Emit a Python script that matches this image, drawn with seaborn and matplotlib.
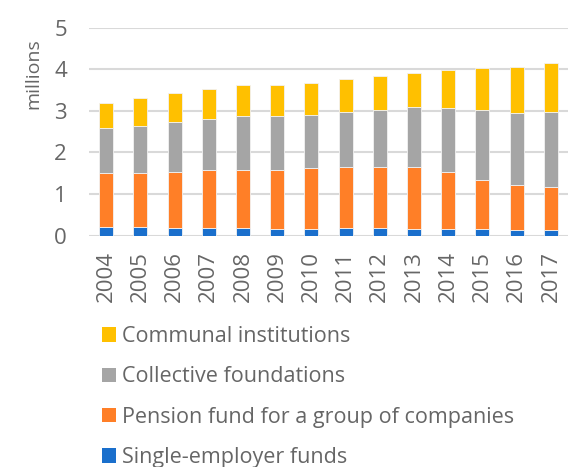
import matplotlib
matplotlib.use("Agg")
import matplotlib.pyplot as plt
from matplotlib.patches import Patch
import seaborn as sns
import pandas as pd

years = [2004, 2005, 2006, 2007, 2008, 2009, 2010, 2011, 2012, 2013, 2014, 2015, 2016, 2017]
single_employer = [0.22, 0.22, 0.19, 0.19, 0.19, 0.17, 0.17, 0.19, 0.19, 0.17, 0.17, 0.17, 0.14, 0.14]
group_companies = [1.28, 1.28, 1.35, 1.39, 1.40, 1.42, 1.46, 1.46, 1.46, 1.48, 1.35, 1.16, 1.07, 1.04]
collective = [1.08, 1.14, 1.20, 1.23, 1.29, 1.29, 1.27, 1.33, 1.38, 1.45, 1.56, 1.70, 1.74, 1.80]
communal = [0.62, 0.66, 0.68, 0.71, 0.74, 0.74, 0.77, 0.79, 0.81, 0.82, 0.91, 1.01, 1.11, 1.18]

series_names = ["Communal institutions", "Collective foundations",
                "Pension fund for a group of companies", "Single-employer funds"]
series_values = [communal, collective, group_companies, single_employer]
colors = ["#FFC000", "#A5A5A5", "#FF7F27", "#1A6FCC"]
y_ticks = [0, 1, 2, 3, 4, 5]

rows = []
for name, vals in zip(series_names, series_values):
    for yr, v in zip(years, vals):
        rows.append({"year": yr, "value": v, "series": name})
df = pd.DataFrame(rows)

sns.set_style("white")
plt.rcParams["font.family"] = ["Open Sans", "DejaVu Sans"]
text_color = "#666666"

fig = plt.figure(figsize=(5.78, 4.67), dpi=100)
ax = fig.add_axes([89 / 578, 1 - 235.7 / 467, (568 - 89) / 578, (235.7 - 27.7) / 467])

palette = dict(zip(series_names, colors))
sns.histplot(data=df, x="year", weights="value", hue="series", hue_order=series_names,
             multiple="stack", discrete=True, shrink=0.41, palette=palette,
             alpha=1, edgecolor="#F2F2F2", linewidth=0.6, legend=False, ax=ax)

ax.set_xlim(years[0] - 0.5, years[-1] + 0.5)
ax.set_ylim(0, 5)
ax.set_yticks(y_ticks)
ax.set_xticks(years)
ax.set_xticklabels([str(y) for y in years], rotation=90)
ax.set_xlabel("")
ax.set_ylabel("")
ax.yaxis.grid(True, color="#D9D9D9", linewidth=1.5)
ax.set_axisbelow(True)
for s in ax.spines.values():
    s.set_visible(False)
ax.tick_params(axis="both", length=0, colors=text_color, labelsize=16)
ax.tick_params(axis="y", pad=16)
ax.tick_params(axis="x", pad=11)

fig.text(33 / 578, 1 - 74 / 467, "millions", rotation=90, ha="center", va="center",
         fontsize=14, color=text_color)

handles = [Patch(facecolor=c, edgecolor="none") for c in colors]
leg = fig.legend(handles, series_names, loc="upper left",
                 bbox_to_anchor=(102 / 578, 1 - 326 / 467), frameon=False,
                 fontsize=15.5, labelcolor=text_color, handlelength=0.65,
                 handleheight=0.65, handletextpad=0.3, labelspacing=0.9,
                 borderpad=0, borderaxespad=0)

fig.savefig("out.png", dpi=100)
